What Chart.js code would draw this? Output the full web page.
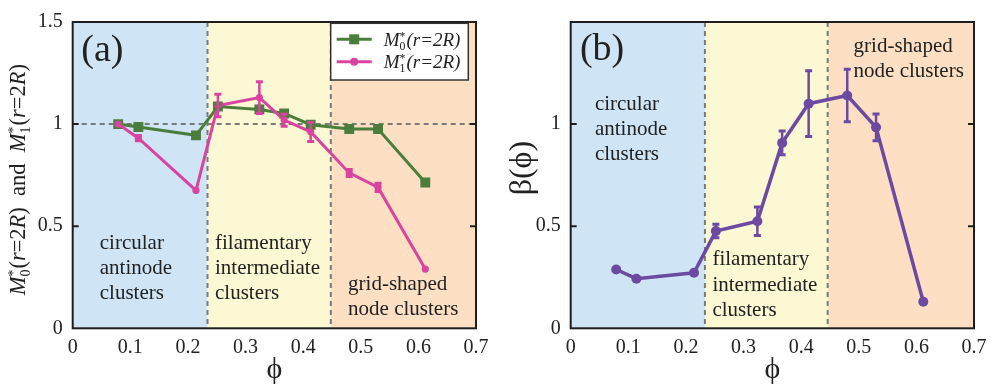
<!DOCTYPE html>
<html>
<head>
<meta charset="utf-8">
<script src="https://cdn.jsdelivr.net/npm/chart.js@4/dist/chart.umd.min.js"></script>
<style>
  html, body { margin: 0; padding: 0; background: #fff; }
  #wrap { position: relative; width: 997px; height: 390px; }
  canvas { position: absolute; top: 0; }
  .preload { position: absolute; left: -9999px; font-family: "Liberation Serif"; }
</style>
</head>
<body>
<span class="preload">0.5 (a) <i>M(r=2R)</i> φβ</span>
<div id="wrap">
  <canvas id="ca" width="497" height="390" style="left:0"></canvas>
  <canvas id="cb" width="500" height="390" style="left:497px"></canvas>
</div>
<script>
// Packing fraction of each measured configuration
const phi = [0.079, 0.114, 0.214, 0.252, 0.324, 0.367, 0.413, 0.480, 0.530, 0.612];

// Normalised moments at r = 2R, with symmetric error half-widths
const m0    = [1.000, 0.986, 0.945, 1.086, 1.072, 1.052, 0.997, 0.976, 0.976, 0.714];
const m0Err = [0, 0.008, 0.008, 0.012, 0.015, 0.010, 0.008, 0.006, 0.006, 0.006];
const m1    = [1.000, 0.931, 0.675, 1.091, 1.130, 1.020, 0.962, 0.761, 0.690, 0.290];
const m1Err = [0, 0.013, 0, 0.055, 0.078, 0.030, 0.047, 0.017, 0.020, 0];

// Exponent beta(phi) with error half-widths
const beta    = [0.288, 0.243, 0.272, 0.476, 0.524, 0.908, 1.100, 1.140, 0.984, 0.130];
const betaErr = [0.010, 0, 0, 0.033, 0.070, 0.058, 0.161, 0.128, 0.065, 0];

// Tick labels
const xTickLabels  = ['0', '0.1', '0.2', '0.3', '0.4', '0.5', '0.6', '0.7'];
const yTickLabelsA = ['0', '0.5', '1', '1.5'];
const yTickLabelsB = ['0', '0.5', '1', ''];

// Boundaries between the three cluster regimes
const regionEdgesA = [0.234, 0.448];
const regionEdgesB = [0.233, 0.446];
const regionNames = [
  ['circular', 'antinode', 'clusters'],
  ['filamentary', 'intermediate', 'clusters'],
  ['grid-shaped', 'node clusters']
];

const SERIF = '"Liberation Serif", "Times New Roman", serif';
const C = {
  blue: '#cfe5f5', yellow: '#fbf8d3', orange: '#fde0c3',
  green: '#4b7d3d', pink: '#d8449f', purple: '#6c4aa2',
  dash: '#7a7a7a', frame: '#1e1e1e', text: '#222'
};

const pts = ys => phi.map((x, i) => ({ x, y: ys[i] }));

// Rich text: runs of roman/italic text with stacked sub/superscripts
function richWidth(ctx, pieces, size) {
  let w = 0;
  for (const p of pieces) {
    if (p.sub !== undefined) {
      ctx.font = `${size * 0.62}px ${SERIF}`;
      w += Math.max(ctx.measureText(p.sub).width, ctx.measureText(p.sup).width) + 1;
    } else {
      ctx.font = `${p.it ? 'italic ' : ''}${size}px ${SERIF}`;
      w += ctx.measureText(p.t).width;
    }
  }
  return w;
}
function drawRich(ctx, pieces, x, y, size) {
  ctx.textBaseline = 'alphabetic';
  ctx.textAlign = 'left';
  for (const p of pieces) {
    if (p.sub !== undefined) {
      ctx.font = `${size * 0.62}px ${SERIF}`;
      ctx.fillText(p.sub, x, y + size * 0.2);
      ctx.fillText(p.sup, x, y - size * 0.32);
      x += Math.max(ctx.measureText(p.sub).width, ctx.measureText(p.sup).width) + 1;
    } else {
      ctx.font = `${p.it ? 'italic ' : ''}${size}px ${SERIF}`;
      ctx.fillText(p.t, x, y);
      x += ctx.measureText(p.t).width;
    }
  }
}
const mLabel = k => [
  { t: 'M', it: true }, { sub: String(k), sup: '*' },
  { t: '(r=2R)', it: true }
];
const mAxis = k => [
  { t: 'M', it: true }, { sub: String(k), sup: '*' },
  { t: '(', it: false }, { t: 'r', it: true }, { t: '=2', it: false }, { t: 'R', it: true }, { t: ')', it: false }
];

const errorBars = {
  id: 'errorBars',
  afterDatasetsDraw(chart) {
    const { ctx, scales: { x, y } } = chart;
    chart.data.datasets.forEach(ds => {
      if (!ds.errors) return;
      ctx.save();
      ctx.strokeStyle = ds.borderColor;
      ds.data.forEach((p, i) => {
        const e = ds.errors[i];
        if (!e) return;
        const px = x.getPixelForValue(p.x);
        const lo = y.getPixelForValue(p.y - e), hi = y.getPixelForValue(p.y + e);
        ctx.lineWidth = 2.5;
        ctx.beginPath(); ctx.moveTo(px, lo); ctx.lineTo(px, hi); ctx.stroke();
        ctx.lineWidth = 3;
        ctx.beginPath();
        ctx.moveTo(px - 3.5, lo); ctx.lineTo(px + 3.5, lo);
        ctx.moveTo(px - 3.5, hi); ctx.lineTo(px + 3.5, hi);
        ctx.stroke();
      });
      ctx.restore();
    });
  }
};

const panel = {
  id: 'panel',
  beforeDatasetsDraw(chart, args, o) {
    const { ctx, chartArea: a, scales: { x, y } } = chart;
    const e = o.edges.map(v => x.getPixelForValue(v));
    const b = [a.left, e[0], e[1], a.right];
    [C.blue, C.yellow, C.orange].forEach((c, i) => {
      ctx.fillStyle = c;
      ctx.fillRect(b[i], a.top, b[i + 1] - b[i], a.bottom - a.top);
    });
    ctx.save();
    ctx.strokeStyle = C.dash;
    ctx.lineWidth = 2;
    ctx.setLineDash([5, 4]);
    ctx.beginPath();
    e.forEach(px => { ctx.moveTo(px, a.top); ctx.lineTo(px, a.bottom); });
    if (o.hline !== undefined) {
      const py = y.getPixelForValue(o.hline);
      ctx.moveTo(a.left, py); ctx.lineTo(a.right, py);
    }
    ctx.stroke();
    ctx.restore();

    // regime labels
    ctx.fillStyle = C.text;
    ctx.font = `21px ${SERIF}`;
    ctx.textAlign = 'left';
    ctx.textBaseline = 'middle';
    o.labels.forEach((l, i) => {
      const lx = x.getPixelForValue(l.x), ly = y.getPixelForValue(l.y);
      regionNames[i].forEach((s, j) => ctx.fillText(s, lx, ly + j * 25.3));
    });
  },
  afterDraw(chart, args, o) {
    const { ctx, chartArea: a, scales: { x, y } } = chart;
    ctx.save();
    // frame
    ctx.strokeStyle = C.frame;
    ctx.lineWidth = 2;
    ctx.strokeRect(a.left, a.top, a.right - a.left, a.bottom - a.top);
    // inward ticks on both vertical sides
    ctx.beginPath();
    o.innerTicks.forEach(v => {
      const py = y.getPixelForValue(v);
      ctx.moveTo(a.left, py); ctx.lineTo(a.left + 6, py);
      ctx.moveTo(a.right, py); ctx.lineTo(a.right - 6, py);
    });
    ctx.stroke();

    // panel tag
    ctx.fillStyle = C.text;
    ctx.font = `38px ${SERIF}`;
    ctx.textAlign = 'left';
    ctx.textBaseline = 'middle';
    ctx.fillText(o.tag, x.getPixelForValue(o.tagPos.x), y.getPixelForValue(o.tagPos.y));

    // x axis title
    ctx.font = `30px ${SERIF}`;
    ctx.textAlign = 'center';
    ctx.textBaseline = 'middle';
    ctx.fillText('\u03D5', (a.left + a.right) / 2 + o.xTitleShift, 370);

    // y axis title
    ctx.save();
    ctx.translate(o.yTitleX, (a.top + a.bottom) / 2 + o.yTitleShift);
    ctx.rotate(-Math.PI / 2);
    if (o.yTitleRich) {
      const sz = o.yTitleSize;
      const w = richWidth(ctx, o.yTitleRich, sz);
      drawRich(ctx, o.yTitleRich, -w / 2, sz * 0.33, sz);
    } else {
      ctx.font = `${o.yTitleSize}px ${SERIF}`;
      ctx.textAlign = 'center';
      ctx.textBaseline = 'middle';
      ctx.fillText(o.yTitle, 0, 0);
    }
    ctx.restore();

    // legend
    if (o.legend) {
      const L = o.legend;
      ctx.fillStyle = '#fff';
      ctx.fillRect(L.x, L.y, L.w, L.h);
      ctx.strokeStyle = '#333';
      ctx.lineWidth = 1.5;
      ctx.strokeRect(L.x, L.y, L.w, L.h);
      chart.data.datasets.forEach((ds, i) => {
        const ly = L.y + 16 + i * 22.4;
        ctx.strokeStyle = ds.borderColor;
        ctx.lineWidth = 3;
        ctx.beginPath(); ctx.moveTo(L.x + 6, ly); ctx.lineTo(L.x + 41, ly); ctx.stroke();
        ctx.fillStyle = ds.borderColor;
        const mx = L.x + 23.5;
        if (ds.pointStyle === 'rect') ctx.fillRect(mx - 5, ly - 5, 10, 10);
        else { ctx.beginPath(); ctx.arc(mx, ly, 4, 0, Math.PI * 2); ctx.fill(); }
        ctx.fillStyle = C.text;
        drawRich(ctx, mLabel(ds.moment), L.x + 53, ly + 6.5, 19);
      });
    }
    ctx.restore();
  }
};

function axes(yLabels) {
  return {
    x: {
      type: 'linear', min: 0, max: 0.7,
      ticks: {
        stepSize: 0.1, autoSkip: false, maxRotation: 0, padding: 7,
        callback: (v, i) => xTickLabels[i] ?? '',
        font: { family: SERIF, size: 20 }, color: C.text
      },
      grid: { display: false, drawTicks: false },
      border: { display: false },
      afterFit: s => { s.height = 61.7; }
    },
    y: {
      type: 'linear', min: 0, max: 1.5,
      ticks: {
        stepSize: 0.5, padding: 10,
        callback: (v, i) => yLabels[i] ?? '',
        font: { family: SERIF, size: 20 }, color: C.text
      },
      grid: { display: false, drawTicks: false },
      border: { display: false },
      afterFit: s => { s.width = 72.7; }
    }
  };
}

function build() {
  new Chart(document.getElementById('ca'), {
    type: 'scatter',
    data: {
      datasets: [
        {
          moment: 0, data: pts(m0), errors: m0Err, showLine: true, order: 2,
          borderColor: C.green, backgroundColor: C.green, borderWidth: 3,
          pointStyle: 'rect', pointRadius: 7, pointBorderWidth: 0
        },
        {
          moment: 1, data: pts(m1), errors: m1Err, showLine: true, order: 1,
          borderColor: C.pink, backgroundColor: C.pink, borderWidth: 3,
          pointStyle: 'circle', pointRadius: 3.6, pointBorderWidth: 0
        }
      ]
    },
    options: {
      responsive: false, animation: false,
      layout: { padding: { top: 10.7, right: 21, left: 0, bottom: 0 } },
      scales: axes(yTickLabelsA),
      plugins: {
        legend: { display: false },
        tooltip: { enabled: false },
        panel: {
          edges: regionEdgesA, hline: 1,
          labels: [{ x: 0.047, y: 0.416 }, { x: 0.247, y: 0.416 }, { x: 0.478, y: 0.214 }],
          innerTicks: [0.5, 1],
          tag: '(a)', tagPos: { x: 0.015, y: 1.36 },
          xTitleShift: 0,
          yTitleX: 18, yTitleShift: 4.5, yTitleSize: 22.5,
          yTitleRich: [...mAxis(0), { t: '  and  ', it: false }, ...mAxis(1)],
          legend: { x: 330.7, y: 23.3, w: 137.6, h: 56.7 }
        }
      }
    },
    plugins: [panel, errorBars]
  });

  new Chart(document.getElementById('cb'), {
    type: 'scatter',
    data: {
      datasets: [
        {
          data: pts(beta), errors: betaErr, showLine: true,
          borderColor: C.purple, backgroundColor: C.purple, borderWidth: 3.5,
          pointStyle: 'circle', pointRadius: 5, pointBorderWidth: 0
        }
      ]
    },
    options: {
      responsive: false, animation: false,
      layout: { padding: { top: 11.3, right: 23, left: 1, bottom: 0 } },
      scales: axes(yTickLabelsB),
      plugins: {
        legend: { display: false },
        tooltip: { enabled: false },
        panel: {
          edges: regionEdgesB,
          labels: [{ x: 0.042, y: 1.097 }, { x: 0.246, y: 0.336 }, { x: 0.491, y: 1.38 }],
          innerTicks: [0.5, 1],
          tag: '(b)', tagPos: { x: 0.016, y: 1.365 },
          xTitleShift: 0,
          yTitleX: 26, yTitleShift: -7, yTitleSize: 32,
          yTitle: '\u03B2(\u03D5)'
        }
      }
    },
    plugins: [panel, errorBars]
  });
}

const fontLoads = [
  '20px "Liberation Serif"', 'italic 20px "Liberation Serif"'
].map(f => document.fonts.load(f, 'M0.5(a)φβϕ'));
Promise.all(fontLoads).then(build, build);
</script>
</body>
</html>
